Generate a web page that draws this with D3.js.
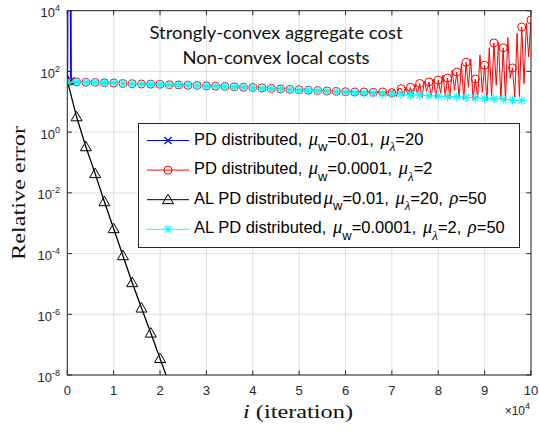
<!DOCTYPE html>
<html>
<head>
<meta charset="utf-8">
<script src="https://cdn.jsdelivr.net/npm/d3@7"></script>
<style>
  body { margin: 0; background: #fff; }
  svg { display: block; }
</style>
</head>
<body>
<div id="chart"></div>
<script>
// ---- data (x in units of 10^4 iterations) ----
const xTickValues = [0, 1, 2, 3, 4, 5, 6, 7, 8, 9, 10];
const yTickExponents = [4, 2, 0, -2, -4, -6, -8];

// PD distributed, mu_w=0.01 (diverges right away)
const blueIter = [0, 0.015, 0.065, 0.08];
const blueErr = [45, 1e8, 1e8, 50];

// samples every 0.2 (x10^4)
const smoothStep = 0.2;
const redSmoothErr = [45.5, 45, 44, 43.5, 42.5, 41.5, 40, 39.5, 38.5, 38, 37.5, 36.5, 36, 35, 34.5,
    33.5, 32.5, 32, 31, 30, 29.5, 28.5, 27.5, 26.5, 25.5, 25, 24, 23.5, 22.5, 22, 21.5, 21, 21, 20.5, 21];
// red oscillating part, samples every 0.05 starting at 6.85
const oscStart = 6.85, oscStep = 0.05;
const redOscErr = [22, 16, 24, 20, 26, 15, 28, 27, 15, 30, 17, 30, 14, 38, 18, 40,
    14, 48, 22, 45, 15, 55, 13, 52, 19, 75, 16, 60, 13, 110, 24, 95,
    14, 180, 12, 200, 30, 260, 12, 56, 14, 350, 20, 160, 11, 600, 14, 870,
    35, 900, 12, 600, 11, 1300, 60, 130, 14, 1800, 15, 2900, 40, 4000, 300, 5000];

const blackErr = [50, 3.2, 0.33, 0.043, 0.0051, 6.6e-4, 8.5e-5, 1.1e-5, 1.6e-6, 2.4e-7, 3.5e-8, 5e-9];

const cyanErr = [45, 44.5, 44, 43, 42, 41, 40, 39, 38.5, 38, 37, 36.5, 35.5, 35, 34, 33, 32.5, 31.5,
    30.5, 30, 29, 28, 27, 26, 25, 24.5, 24, 23, 22, 21.5, 21, 20, 19.5, 19, 18.5, 18, 17.5, 17,
    16.5, 16, 15.5, 15, 14.5, 14, 13.5, 13, 12.5, 12, 11.5, 11];

const titleLines = ["Strongly-convex aggregate cost", "Non-convex local costs"];

// ---- build point lists ----
const bluePts = blueIter.map((x, i) => ({x: x, y: blueErr[i], m: true}));
const redPts = redSmoothErr.map((v, i) => ({x: i * smoothStep, y: v, m: true}))
    .concat(redOscErr.map((v, i) => ({x: oscStart + i * oscStep, y: v, m: i % 4 === 3})));
const blackPts = blackErr.map((v, i) => ({x: i * smoothStep, y: v, m: true}));
const cyanPts = cyanErr.map((v, i) => ({x: i * smoothStep, y: v, m: true}));

// ---- layout ----
const W = 539, H = 431;
const plot = {left: 67.3, right: 531, top: 10.7, bottom: 375};

const svg = d3.select("#chart").append("svg")
    .attr("width", W).attr("height", H);

const x = d3.scaleLinear().domain([0, 10]).range([plot.left, plot.right]);
const y = d3.scaleLog().domain([1e-8, 1e4]).range([plot.bottom, plot.top]);

const axisColor = "#262626";
const gridColor = "#dfdfdf";

svg.append("defs").append("clipPath").attr("id", "clip")
    .append("rect")
    .attr("x", plot.left).attr("y", plot.top)
    .attr("width", plot.right - plot.left).attr("height", plot.bottom - plot.top);

// grid
const grid = svg.append("g");
grid.selectAll(".gx").data(xTickValues).enter().append("line")
    .attr("x1", d => x(d)).attr("x2", d => x(d))
    .attr("y1", plot.top).attr("y2", plot.bottom)
    .attr("stroke", gridColor).attr("stroke-width", 1);
grid.selectAll(".gy").data(yTickExponents).enter().append("line")
    .attr("x1", plot.left).attr("x2", plot.right)
    .attr("y1", d => y(Math.pow(10, d))).attr("y2", d => y(Math.pow(10, d)))
    .attr("stroke", gridColor).attr("stroke-width", 1);

// ---- markers ----
function drawMarker(g, type, color, cx, cy) {
    if (type === "o") {
        g.append("circle").attr("cx", cx).attr("cy", cy).attr("r", 4)
            .attr("fill", "none").attr("stroke", color).attr("stroke-width", 1);
    } else if (type === "^") {
        g.append("path")
            .attr("d", `M${cx},${cy - 5.5}L${cx + 5.5},${cy + 4}L${cx - 5.5},${cy + 4}Z`)
            .attr("fill", "none").attr("stroke", color).attr("stroke-width", 1);
    } else if (type === "x") {
        const s = 3.5;
        g.append("path")
            .attr("d", `M${cx - s},${cy - s}L${cx + s},${cy + s}M${cx - s},${cy + s}L${cx + s},${cy - s}`)
            .attr("stroke", color).attr("stroke-width", 1.2);
    } else if (type === "*") {
        const s = 4.5, d = 3.3;
        g.append("path")
            .attr("d", `M${cx - s},${cy}L${cx + s},${cy}M${cx},${cy - s}L${cx},${cy + s}` +
                `M${cx - d},${cy - d}L${cx + d},${cy + d}M${cx - d},${cy + d}L${cx + d},${cy - d}`)
            .attr("stroke", color).attr("stroke-width", 1.1);
    }
}

const line = d3.line().x(d => x(d.x)).y(d => y(d.y));
const dataG = svg.append("g").attr("clip-path", "url(#clip)");

const series = [
    {pts: bluePts, color: "#0000ff", marker: "x", width: 1.8},
    {pts: redPts, color: "#ff0000", marker: "o", width: 1},
    {pts: blackPts, color: "#000000", marker: "^", width: 1.3},
    {pts: cyanPts, color: "#00ffff", marker: "*", width: 1}
];

series.forEach(s => {
    const g = dataG.append("g");
    g.append("path").datum(s.pts)
        .attr("d", line)
        .attr("fill", "none")
        .attr("stroke", s.color)
        .attr("stroke-width", s.width);
    s.pts.filter(p => p.m).forEach(p => {
        const py = y(p.y);
        if (py > plot.top - 10 && py < plot.bottom + 10) drawMarker(g, s.marker, s.color, x(p.x), py);
    });
});

// ---- box & ticks ----
svg.append("rect")
    .attr("x", plot.left).attr("y", plot.top)
    .attr("width", plot.right - plot.left).attr("height", plot.bottom - plot.top)
    .attr("fill", "none").attr("stroke", axisColor).attr("stroke-width", 1);

const tickLen = 4.6;
const ticks = svg.append("g").attr("stroke", axisColor).attr("stroke-width", 1);
xTickValues.forEach(v => {
    ticks.append("line").attr("x1", x(v)).attr("x2", x(v))
        .attr("y1", plot.bottom).attr("y2", plot.bottom - tickLen);
    ticks.append("line").attr("x1", x(v)).attr("x2", x(v))
        .attr("y1", plot.top).attr("y2", plot.top + tickLen);
});
yTickExponents.forEach(e => {
    const yy = y(Math.pow(10, e));
    ticks.append("line").attr("x1", plot.left).attr("x2", plot.left + tickLen)
        .attr("y1", yy).attr("y2", yy);
    ticks.append("line").attr("x1", plot.right).attr("x2", plot.right - tickLen)
        .attr("y1", yy).attr("y2", yy);
});

// tick labels
const tickFont = "'Liberation Sans', Arial, sans-serif";
svg.append("g").selectAll("text").data(xTickValues).enter().append("text")
    .attr("x", d => x(d)).attr("y", 395)
    .attr("text-anchor", "middle")
    .attr("font-family", tickFont).attr("font-size", 13)
    .attr("fill", axisColor)
    .text(d => d);

const yl = svg.append("g").selectAll("text").data(yTickExponents).enter().append("text")
    .attr("x", 60).attr("y", d => y(Math.pow(10, d)) + 6.5)
    .attr("text-anchor", "end")
    .attr("font-family", tickFont).attr("font-size", 13)
    .attr("fill", axisColor);
yl.append("tspan").text("10");
yl.append("tspan").attr("dy", -6).attr("font-size", 9).text(d => d);

// x10^4 multiplier
const mult = svg.append("text")
    .attr("x", 530).attr("y", 415)
    .attr("text-anchor", "end")
    .attr("font-family", tickFont).attr("font-size", 12)
    .attr("fill", axisColor);
mult.append("tspan").text("\u00d710");
mult.append("tspan").attr("dy", -6).attr("font-size", 9).text("4");

// axis labels
const serif = "'Liberation Serif', 'Times New Roman', serif";
const xl = svg.append("text")
    .attr("x", 298).attr("y", 418)
    .attr("text-anchor", "middle")
    .attr("font-family", serif).attr("font-size", 19.5)
    .attr("fill", "#111")
    .attr("textLength", 110).attr("lengthAdjust", "spacingAndGlyphs");
xl.append("tspan").attr("font-style", "italic").text("i");
xl.append("tspan").text(" (iteration)");

svg.append("text")
    .attr("transform", "translate(25,193) rotate(-90)")
    .attr("text-anchor", "middle")
    .attr("font-family", serif).attr("font-size", 19.5)
    .attr("fill", "#111")
    .attr("textLength", 134).attr("lengthAdjust", "spacingAndGlyphs")
    .text("Relative error");

// title annotation
const titleFont = "Lato, 'Open Sans', sans-serif";
const titleWidths = [253, 187];
titleLines.forEach((t, i) => {
    svg.append("text")
        .attr("x", 276).attr("y", 38.5 + i * 25)
        .attr("text-anchor", "middle")
        .attr("font-family", titleFont).attr("font-size", 17.5)
        .attr("fill", "#111")
        .attr("textLength", titleWidths[i]).attr("lengthAdjust", "spacingAndGlyphs")
        .text(t);
});

// ---- legend ----
const legendEntries = [
    {color: "#0000ff", marker: "x", parts: [["PD distributed, "], ["\u03bc", "mu"], ["w", "sub"], ["=0.01, "], ["\u03bc", "mu"], ["\u03bb", "subl"], ["=20"]]},
    {color: "#ff0000", marker: "o", parts: [["PD distributed, "], ["\u03bc", "mu"], ["w", "sub"], ["=0.0001, "], ["\u03bc", "mu"], ["\u03bb", "subl"], ["=2"]]},
    {color: "#000000", marker: "^", parts: [["AL PD distributed"], ["\u03bc", "mu"], ["w", "sub"], ["=0.01, "], ["\u03bc", "mu"], ["\u03bb", "subl"], ["=20, "], ["\u03c1", "mu"], ["=50"]]},
    {color: "#00ffff", marker: "*", parts: [["AL PD distributed, "], ["\u03bc", "mu"], ["w", "sub"], ["=0.0001, "], ["\u03bc", "mu"], ["\u03bb", "subl"], ["=2, "], ["\u03c1", "mu"], ["=50"]]}
];

const lg = svg.append("g");
lg.append("rect")
    .attr("x", 138.5).attr("y", 123.5).attr("width", 381).attr("height", 124)
    .attr("fill", "#fff").attr("stroke", axisColor).attr("stroke-width", 1);

legendEntries.forEach((e, i) => {
    const base = 144.5 + i * 29.6;
    const ly = base - 4;
    lg.append("line").attr("x1", 147).attr("x2", 189).attr("y1", ly).attr("y2", ly)
        .attr("stroke", e.color).attr("stroke-width", 1);
    drawMarker(lg, e.marker, e.color, 168, ly);
    const t = lg.append("text")
        .attr("x", 194).attr("y", base)
        .attr("font-family", tickFont).attr("font-size", 16.5)
        .attr("fill", "#000");
    let shifted = false;
    e.parts.forEach(p => {
        const ts = t.append("tspan").text(p[0]);
        if (p[1] === "mu") {
            ts.attr("font-family", serif).attr("font-style", "italic").attr("font-size", 18.5)
                .attr("dx", 2);
            if (shifted) { ts.attr("dy", -6.5); shifted = false; }
        } else if (p[1] === "sub" || p[1] === "subl") {
            ts.attr("font-size", 13).attr("dy", 6.5);
            if (p[1] === "subl") ts.attr("font-family", serif).attr("font-style", "italic");
            shifted = true;
        } else {
            if (shifted) { ts.attr("dy", -6.5); shifted = false; }
        }
    });
});
</script>
</body>
</html>
